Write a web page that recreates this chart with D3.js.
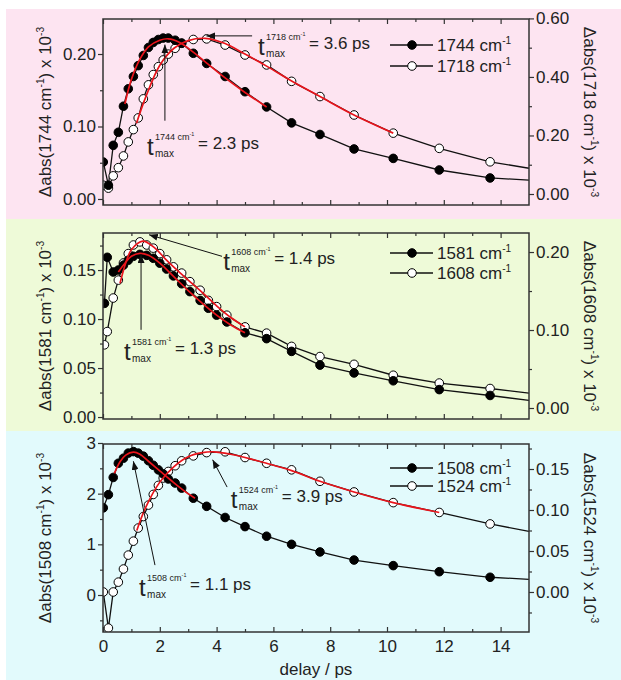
<!DOCTYPE html>
<html lang="en">
<head>
<meta charset="UTF-8">
<title>Transient IR kinetics</title>
<script src="https://d3js.org/d3.v7.min.js"></script>
<style>
  html, body { margin: 0; padding: 0; background: #fff; }
  svg { display: block; }
</style>
</head>
<body>
<div id="chart"></div>
<script>
const FONT = "'Liberation Sans', Arial, Helvetica, sans-serif";

// delays in ps (last entry = value where the line meets the right frame, no marker)
const delaysFast = [0.01, 0.19, 0.36, 0.54, 0.72, 0.89, 1.07, 1.24, 1.42, 1.6, 1.77, 1.95, 2.12, 2.3,
  2.54, 2.77, 3.18, 3.65, 4.3, 5.0, 5.76, 6.64, 7.64, 8.84, 10.22, 11.84, 13.63, 15];
const delaysMid = [0.05, 0.15, 0.36, 0.54, 0.72, 0.89, 1.07, 1.3, 1.54, 1.77, 2.0, 2.24, 2.48, 2.77,
  3.06, 3.42, 3.71, 4.0, 4.36, 5.0, 5.76, 6.64, 7.64, 8.84, 10.22, 11.84, 13.63, 15];

// Δabs x 10^-3
const abs1744 = [0.051, 0.019, 0.074, 0.092, 0.128, 0.152, 0.169, 0.184, 0.198, 0.209, 0.216, 0.220, 0.222, 0.222,
  0.219, 0.215, 0.201, 0.187, 0.169, 0.148, 0.127, 0.105, 0.089, 0.069, 0.056, 0.040, 0.029, 0.026];
const abs1718 = [0.030, 0.020, 0.062, 0.090, 0.130, 0.178, 0.220, 0.260, 0.325, 0.373, 0.408, 0.435, 0.458, 0.478,
  0.498, 0.515, 0.528, 0.530, 0.509, 0.475, 0.441, 0.385, 0.333, 0.270, 0.208, 0.156, 0.110, 0.088];
const abs1581 = [0.116, 0.163, 0.148, 0.150, 0.155, 0.160, 0.164, 0.166, 0.165, 0.162, 0.157, 0.151, 0.144, 0.136,
  0.128, 0.119, 0.111, 0.104, 0.097, 0.086, 0.080, 0.067, 0.053, 0.045, 0.037, 0.028, 0.022, 0.017];
const abs1608 = [0.081, 0.098, 0.141, 0.164, 0.186, 0.198, 0.209, 0.213, 0.209, 0.205, 0.198, 0.190, 0.181, 0.173,
  0.162, 0.151, 0.138, 0.130, 0.119, 0.104, 0.096, 0.079, 0.066, 0.056, 0.042, 0.032, 0.025, 0.019];
const abs1508 = [1.72, 1.98, 2.32, 2.60, 2.70, 2.80, 2.83, 2.80, 2.74, 2.65, 2.56, 2.47, 2.39, 2.29,
  2.21, 2.11, 1.91, 1.75, 1.53, 1.35, 1.16, 1.00, 0.85, 0.69, 0.58, 0.46, 0.35, 0.31];
const abs1524 = [0.000, -0.044, 0.000, 0.012, 0.028, 0.045, 0.062, 0.078, 0.092, 0.106, 0.119, 0.130, 0.139, 0.147,
  0.154, 0.160, 0.166, 0.170, 0.171, 0.164, 0.157, 0.149, 0.135, 0.122, 0.109, 0.097, 0.083, 0.074];

// red fits [delay, value]
const fit1744 = [[0.77, 0.131], [1.0, 0.165], [1.3, 0.193], [1.6, 0.210], [2.0, 0.219], [2.3, 0.221], [2.7, 0.216],
  [3.2, 0.202], [3.7, 0.186], [4.3, 0.167], [5.0, 0.147], [5.76, 0.127]];
const fit1718 = [[1.18, 0.242], [1.5, 0.330], [2.0, 0.440], [2.5, 0.498], [3.0, 0.524], [3.6, 0.532], [4.3, 0.514],
  [5.0, 0.478], [5.76, 0.437], [6.64, 0.386], [7.64, 0.333], [8.84, 0.270], [10.22, 0.208]];
const fit1581 = [[0.54, 0.148], [0.8, 0.158], [1.0, 0.164], [1.3, 0.167], [1.6, 0.165], [2.0, 0.157], [2.5, 0.143],
  [3.0, 0.129], [3.5, 0.116], [4.0, 0.104], [4.5, 0.094], [5.0, 0.086]];
const fit1608 = [[0.6, 0.160], [0.8, 0.186], [1.0, 0.203], [1.4, 0.214], [1.8, 0.206], [2.2, 0.191], [2.6, 0.177],
  [3.0, 0.164], [3.5, 0.148], [4.0, 0.131], [4.5, 0.116], [5.0, 0.104]];
const fit1508 = [[0.4, 2.40], [0.6, 2.63], [0.8, 2.76], [1.07, 2.82], [1.3, 2.78], [1.6, 2.64], [2.0, 2.45],
  [2.4, 2.26], [2.8, 2.08], [3.24, 1.91]];
const fit1524 = [[1.19, 0.075], [1.5, 0.103], [2.0, 0.134], [2.5, 0.153], [3.0, 0.165], [3.5, 0.170], [3.9, 0.171],
  [4.5, 0.168], [5.0, 0.164], [5.76, 0.157], [6.64, 0.148], [7.64, 0.135], [8.84, 0.122], [10.22, 0.109], [11.84, 0.097]];

const W = 621, H = 680;
const x = d3.scaleLinear().domain([0, 15]).range([103, 529]);

const svg = d3.select("#chart").append("svg")
  .attr("width", W).attr("height", H)
  .attr("font-family", FONT);

svg.append("defs").append("marker")
  .attr("id", "arrow")
  .attr("viewBox", "0 0 10 8")
  .attr("refX", 10).attr("refY", 4)
  .attr("markerWidth", 9).attr("markerHeight", 7)
  .attr("markerUnits", "userSpaceOnUse")
  .attr("orient", "auto")
  .append("path").attr("d", "M0,0L10,4L0,8Z").attr("fill", "#111");

// text with superscripts: parts are strings or {sup: "..."}
function rich(sel, parts, size) {
  let up = false;
  parts.forEach(p => {
    if (typeof p === "string") {
      sel.append("tspan").attr("font-size", size).attr("dy", up ? size * 0.42 : 0).text(p);
      up = false;
    } else {
      sel.append("tspan").attr("font-size", size * 0.6).attr("dy", -size * 0.42).text(p.sup);
      up = true;
    }
  });
  return sel;
}

const panels = [
  {
    bg: "#fde4f1", band: [9, 219], plot: [19, 205],
    left: [-0.0083, 0.2483], lMaj: [0, 0.1, 0.2], lMin: [0.05, 0.15], lFmt: ".2f",
    right: [-0.0376, 0.598], rMaj: [0, 0.2, 0.4, 0.6], rMin: [0.1, 0.3, 0.5], rFmt: ".2f",
    lTitle: "1744", rTitle: "1718", leg: [26, 47],
    series: [
      { t: delaysFast, v: abs1744, fit: fit1744, axis: "L", open: false, name: "1744 cm" },
      { t: delaysFast, v: abs1718, fit: fit1718, axis: "R", open: true, name: "1718 cm" }
    ],
    notes: [
      { sup: "1744 cm", eq: "= 2.3 ps", at: [1.55, 0.061], from: [2.18, 0.108], to: [2.18, 0.213] },
      { sup: "1718 cm", eq: "= 3.6 ps", at: [5.46, 0.199], from: [5.25, 0.225], to: [3.64, 0.225] }
    ]
  },
  {
    bg: "#eefad8", band: [219, 431], plot: [233, 419],
    left: [-0.002, 0.1878], lMaj: [0, 0.05, 0.1, 0.15], lMin: [0.025, 0.075, 0.125, 0.175], lFmt: ".2f",
    right: [-0.0141, 0.2244], rMaj: [0, 0.1, 0.2], rMin: [0.05, 0.15], rFmt: ".2f",
    lTitle: "1581", rTitle: "1608", leg: [20, 40],
    series: [
      { t: delaysMid, v: abs1581, fit: fit1581, axis: "L", open: false, name: "1581 cm" },
      { t: delaysMid, v: abs1608, fit: fit1608, axis: "R", open: true, name: "1608 cm" }
    ],
    notes: [
      { sup: "1608 cm", eq: "= 1.4 ps", at: [4.23, 0.150], from: [4.19, 0.164], to: [1.62, 0.186] },
      { sup: "1581 cm", eq: "= 1.3 ps", at: [0.74, 0.058], from: [1.34, 0.089], to: [1.34, 0.166] }
    ]
  },
  {
    bg: "#e2fafc", band: [431, 680], plot: [444, 632],
    left: [-0.73, 2.98], lMaj: [0, 1, 2, 3], lMin: [-0.5, 0.5, 1.5, 2.5], lFmt: "d",
    right: [-0.0488, 0.1805], rMaj: [0, 0.05, 0.1, 0.15], rMin: [-0.025, 0.025, 0.075, 0.125, 0.175], rFmt: ".2f",
    lTitle: "1508", rTitle: "1524", leg: [24, 42], xLabels: true,
    series: [
      { t: delaysFast, v: abs1508, fit: fit1508, axis: "L", open: false, name: "1508 cm" },
      { t: delaysFast, v: abs1524, fit: fit1524, axis: "R", open: true, name: "1524 cm" }
    ],
    notes: [
      { sup: "1508 cm", eq: "= 1.1 ps", at: [1.27, -0.02], from: [1.83, 0.59], to: [1.07, 2.64] },
      { sup: "1524 cm", eq: "= 3.9 ps", at: [4.5, 1.72], from: [4.37, 2.13], to: [3.86, 2.67] }
    ]
  }
];

function styleAxis(s) {
  s.select(".domain").remove();
  s.attr("font-family", FONT).attr("font-size", 17);
  s.selectAll("line").attr("stroke", "#333").attr("stroke-width", 1.2);
  s.selectAll("text").attr("fill", "#222");
}

panels.forEach((p, i) => {
  svg.append("rect")
    .attr("x", 6).attr("y", p.band[0])
    .attr("width", W - 6).attr("height", p.band[1] - p.band[0])
    .attr("fill", p.bg);

  const yL = d3.scaleLinear().domain(p.left).range([p.plot[1], p.plot[0]]);
  const yR = d3.scaleLinear().domain(p.right).range([p.plot[1], p.plot[0]]);
  const g = svg.append("g");

  const clipId = "clip" + i;
  g.append("clipPath").attr("id", clipId).append("rect")
    .attr("x", x(0)).attr("y", p.plot[0])
    .attr("width", x(15) - x(0)).attr("height", p.plot[1] - p.plot[0]);

  // axes
  g.append("g").attr("transform", `translate(${x(0)},0)`)
    .call(d3.axisLeft(yL).tickValues(p.lMaj).tickSize(5).tickPadding(2).tickFormat(d3.format(p.lFmt)))
    .call(styleAxis);
  g.append("g").attr("transform", `translate(${x(0)},0)`)
    .call(d3.axisLeft(yL).tickValues(p.lMin).tickSize(3).tickFormat(""))
    .call(styleAxis);
  g.append("g").attr("transform", `translate(${x(15)},0)`)
    .call(d3.axisRight(yR).tickValues(p.rMaj).tickSize(5).tickPadding(2).tickFormat(d3.format(p.rFmt)))
    .call(styleAxis);
  g.append("g").attr("transform", `translate(${x(15)},0)`)
    .call(d3.axisRight(yR).tickValues(p.rMin).tickSize(3).tickFormat(""))
    .call(styleAxis);

  const major = d3.range(0, 15, 2), minor = d3.range(1, 15, 2);
  g.append("g").attr("transform", `translate(0,${p.plot[1]})`)
    .call(d3.axisBottom(x).tickValues(major).tickSize(-5).tickPadding(8)
      .tickFormat(p.xLabels ? d3.format("d") : ""))
    .call(styleAxis);
  g.append("g").attr("transform", `translate(0,${p.plot[1]})`)
    .call(d3.axisBottom(x).tickValues(minor).tickSize(-3).tickFormat(""))
    .call(styleAxis);
  g.append("g").attr("transform", `translate(0,${p.plot[0]})`)
    .call(d3.axisTop(x).tickValues(major).tickSize(-5).tickFormat(""))
    .call(styleAxis);
  g.append("g").attr("transform", `translate(0,${p.plot[0]})`)
    .call(d3.axisTop(x).tickValues(minor).tickSize(-3).tickFormat(""))
    .call(styleAxis);

  // data
  const plot = g.append("g").attr("clip-path", `url(#${clipId})`);
  const ser = p.series.map(s => ({
    ...s,
    y: s.axis === "L" ? yL : yR,
    pts: s.t.map((t, k) => [t, s.v[k]])
  }));

  ser.forEach(s => {
    plot.append("path")
      .attr("d", d3.line().x(d => x(d[0])).y(d => s.y(d[1]))(s.pts))
      .attr("fill", "none").attr("stroke", "#111").attr("stroke-width", 1.3);
  });
  ser.slice().reverse().forEach(s => {
    plot.append("g").selectAll("circle")
      .data(s.pts.filter(d => d[0] < 14.9))
      .join("circle")
      .attr("cx", d => x(d[0])).attr("cy", d => s.y(d[1])).attr("r", 4.3)
      .attr("fill", s.open ? "#fff" : "#000")
      .attr("stroke", "#000").attr("stroke-width", 1);
  });
  ser.forEach(s => {
    plot.append("path")
      .attr("d", d3.line().curve(d3.curveCatmullRom.alpha(0.5))
        .x(d => x(d[0])).y(d => s.y(d[1]))(s.fit))
      .attr("fill", "none").attr("stroke", "#e8141b").attr("stroke-width", 1.7);
  });

  // frame
  g.append("rect")
    .attr("x", x(0)).attr("y", p.plot[0])
    .attr("width", x(15) - x(0)).attr("height", p.plot[1] - p.plot[0])
    .attr("fill", "none").attr("stroke", "#333").attr("stroke-width", 1.5);

  // legend
  ser.forEach((s, k) => {
    const ly = p.plot[0] + p.leg[k];
    const lx = x(15);
    g.append("line").attr("x1", lx - 139).attr("x2", lx - 96).attr("y1", ly).attr("y2", ly)
      .attr("stroke", "#111").attr("stroke-width", 1.3);
    g.append("circle").attr("cx", lx - 117).attr("cy", ly).attr("r", 4.3)
      .attr("fill", s.open ? "#fff" : "#000").attr("stroke", "#000");
    rich(g.append("text").attr("x", lx - 92).attr("y", ly + 6).attr("fill", "#222"),
      [s.name, { sup: "-1" }], 17);
  });

  // t_max annotations
  p.notes.forEach(n => {
    g.append("line")
      .attr("x1", x(n.from[0])).attr("y1", yL(n.from[1]))
      .attr("x2", x(n.to[0])).attr("y2", yL(n.to[1]))
      .attr("stroke", "#111").attr("stroke-width", 1)
      .attr("marker-end", "url(#arrow)");
    const ax = x(n.at[0]), ab = yL(n.at[1]);
    g.append("text").attr("x", ax).attr("y", ab).attr("font-size", 24).attr("fill", "#222").text("t");
    rich(g.append("text").attr("x", ax + 8).attr("y", ab - 15).attr("fill", "#222"), [n.sup, { sup: "-1" }], 9);
    g.append("text").attr("x", ax + 8).attr("y", ab + 2).attr("font-size", 10).attr("fill", "#222").text("max");
    g.append("text").attr("x", ax + 51).attr("y", ab - 6).attr("font-size", 17).attr("fill", "#222").text(n.eq);
  });

  // axis titles
  const mid = (p.plot[0] + p.plot[1]) / 2;
  rich(g.append("text").attr("text-anchor", "middle").attr("fill", "#222")
    .attr("transform", `translate(51,${mid}) rotate(-90)`),
    ["\u0394abs(" + p.lTitle + " cm", { sup: "-1" }, ") x 10", { sup: "-3" }], 17);
  rich(g.append("text").attr("text-anchor", "middle").attr("fill", "#222")
    .attr("transform", `translate(584,${mid}) rotate(90)`),
    ["\u0394abs(" + p.rTitle + " cm", { sup: "-1" }, ") x 10", { sup: "-3" }], 17);

  if (p.xLabels) {
    g.append("text").attr("x", (x(0) + x(15)) / 2).attr("y", 675)
      .attr("text-anchor", "middle").attr("font-size", 17).attr("fill", "#222")
      .text("delay / ps");
  }
});
</script>
</body>
</html>
